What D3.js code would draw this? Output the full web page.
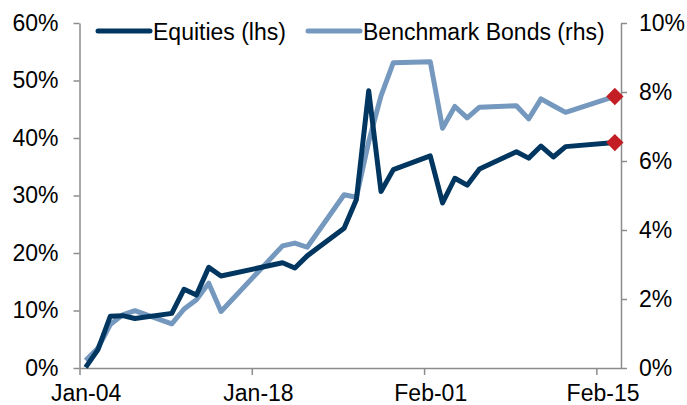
<!DOCTYPE html>
<html>
<head>
<meta charset="utf-8">
<script src="https://cdn.jsdelivr.net/npm/d3@7"></script>
<style>
  body { margin: 0; background: #fff; }
  text { font-family: "Liberation Sans", Arial, sans-serif; }
</style>
</head>
<body>
<svg></svg>
<script>
// trading days, Jan-Feb 2021
var dates = ["2021-01-04", "2021-01-05", "2021-01-06", "2021-01-07", "2021-01-08",
    "2021-01-11", "2021-01-12", "2021-01-13", "2021-01-14", "2021-01-15",
    "2021-01-20", "2021-01-21", "2021-01-22",
    "2021-01-25", "2021-01-26", "2021-01-27", "2021-01-28", "2021-01-29",
    "2021-02-01", "2021-02-02", "2021-02-03", "2021-02-04", "2021-02-05",
    "2021-02-08", "2021-02-09", "2021-02-10", "2021-02-11", "2021-02-12",
    "2021-02-16"];

// equities, % (left axis)
var equities = [0.1, 3.2, 9.0, 9.1, 8.6,
    9.5, 13.7, 12.7, 17.5, 16.0,
    18.3, 17.4, 19.5,
    24.3, 29.3, 48.2, 30.7, 34.5,
    36.9, 28.7, 33.0, 31.8, 34.6,
    37.6, 36.5, 38.6, 36.7, 38.5,
    39.2];

// benchmark bonds, % (right axis)
var bonds = [0.22, 0.58, 1.26, 1.54, 1.66,
    1.28, 1.71, 1.98, 2.46, 1.64,
    3.54, 3.62, 3.50,
    5.02, 4.95, 6.56, 7.89, 8.85,
    8.88, 6.95, 7.58, 7.25, 7.56,
    7.60, 7.22, 7.80, 7.60, 7.41,
    7.87];

var xTicks = ["2021-01-04", "2021-01-18", "2021-02-01", "2021-02-15"];
var leftTicks = [0, 10, 20, 30, 40, 50, 60];
var rightTicks = [0, 2, 4, 6, 8, 10];

var svgWidth = 687, svgHeight = 405;
var margin = {top: 23, right: 66, bottom: 37, left: 79.5};
var width = svgWidth - margin.left - margin.right,
    height = svgHeight - margin.top - margin.bottom;

var darkBlue = '#00365f', lightBlue = '#7598be', red = '#c41e25', axisGrey = '#8c8c8c';
var fontSize = '23px';

var parse = d3.utcParse('%Y-%m-%d');
var noon = function(s) { return d3.utcHour.offset(parse(s), 12); };

var svg = d3.select('svg')
    .attr('width', svgWidth)
    .attr('height', svgHeight);

var g = svg.append('g')
    .attr('transform', 'translate(' + margin.left + ',' + margin.top + ')');

var x = d3.scaleUtc()
    .domain([parse('2021-01-04'), parse('2021-02-17')])
    .range([0, width]);

var yLeft = d3.scaleLinear().domain([0, 60]).range([height, 0]);
var yRight = d3.scaleLinear().domain([0, 10]).range([height, 0]);

var pct = function(d) { return d + '%'; };
var halfDay = x(noon('2021-01-04')) - x(parse('2021-01-04'));

// axes
var xAxis = g.append('g')
    .attr('transform', 'translate(0,' + height + ')')
    .call(d3.axisBottom(x)
        .tickValues(xTicks.map(parse))
        .tickFormat(d3.utcFormat('%b-%d'))
        .tickSize(7)
        .tickSizeOuter(0)
        .tickPadding(10));

// date labels sit in the middle of their day, ticks on its start
xAxis.selectAll('.tick text').attr('x', halfDay);

var leftAxis = g.append('g')
    .call(d3.axisLeft(yLeft)
        .tickValues(leftTicks)
        .tickFormat(pct)
        .tickSize(6)
        .tickSizeOuter(0)
        .tickPadding(15));

var rightAxis = g.append('g')
    .attr('transform', 'translate(' + width + ',0)')
    .call(d3.axisRight(yRight)
        .tickValues(rightTicks)
        .tickFormat(pct)
        .tickSize(6)
        .tickSizeOuter(0)
        .tickPadding(12));

[xAxis, leftAxis, rightAxis].forEach(function(a) {
    a.selectAll('path, line').attr('stroke', axisGrey).attr('stroke-width', 1.5);
    a.selectAll('text')
        .attr('fill', '#000')
        .style('font-size', fontSize);
});

// lines
var rows = dates.map(function(d, i) {
    return {date: noon(d), eq: equities[i], bd: bonds[i]};
});

var eqLine = d3.line()
    .x(function(d) { return x(d.date); })
    .y(function(d) { return yLeft(d.eq); });

var bdLine = d3.line()
    .x(function(d) { return x(d.date); })
    .y(function(d) { return yRight(d.bd); });

g.append('path')
    .datum(rows)
    .attr('d', bdLine)
    .attr('fill', 'none')
    .attr('stroke', lightBlue)
    .attr('stroke-width', 5)
    .attr('stroke-linejoin', 'round');

g.append('path')
    .datum(rows)
    .attr('d', eqLine)
    .attr('fill', 'none')
    .attr('stroke', darkBlue)
    .attr('stroke-width', 5)
    .attr('stroke-linejoin', 'round');

// red diamonds on the latest values
var last = rows[rows.length - 1];
var diamond = d3.symbol().type(d3.symbolSquare).size(150);

[[x(last.date), yLeft(last.eq)], [x(last.date), yRight(last.bd)]].forEach(function(p) {
    g.append('path')
        .attr('d', diamond)
        .attr('transform', 'translate(' + p[0] + ',' + p[1] + ') rotate(45)')
        .attr('fill', red);
});

// legend
var legend = [
    {label: 'Equities (lhs)', color: darkBlue, x: 98},
    {label: 'Benchmark Bonds (rhs)', color: lightBlue, x: 308}
];

legend.forEach(function(l) {
    svg.append('line')
        .attr('x1', l.x).attr('x2', l.x + 52)
        .attr('y1', 31).attr('y2', 31)
        .attr('stroke', l.color)
        .attr('stroke-width', 5)
        .attr('stroke-linecap', 'round');
    svg.append('text')
        .attr('x', l.x + 55)
        .attr('y', 40)
        .style('font-size', fontSize)
        .attr('fill', '#000')
        .text(l.label);
});
</script>
</body>
</html>
